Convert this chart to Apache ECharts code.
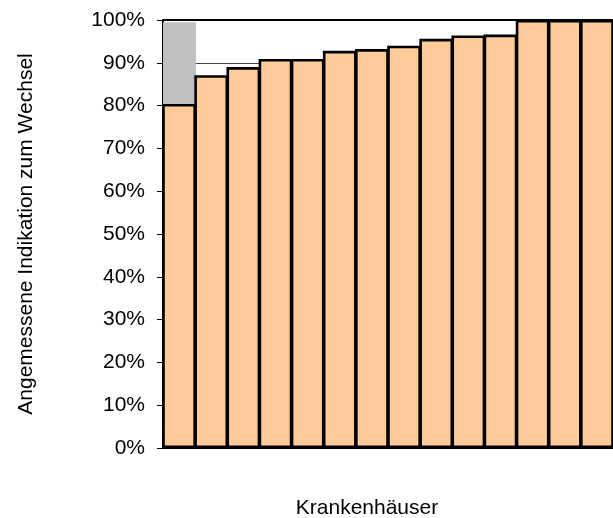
<!DOCTYPE html>
<html>
<head>
<meta charset="utf-8">
<script src="https://cdn.jsdelivr.net/npm/echarts@6/dist/echarts.min.js"></script>
<style>
  html, body { margin: 0; padding: 0; background: #fff; }
  #chart { width: 613px; height: 518px; }
</style>
</head>
<body>
<div id="chart"></div>
<script>
// Krankenhäuser (eine Säule je Haus)
var categories = ['1', '2', '3', '4', '5', '6', '7', '8', '9', '10', '11', '12', '13', '14'];
// Anteil angemessene Indikation in %
var indikation = [80.4, 87.1, 89.0, 90.9, 90.9, 92.8, 93.2, 94.0, 95.6, 96.4, 96.6, 100, 100, 100];
// grauer Aufsatz auf der ersten Säule
var aufsatz = [19.1, '-', '-', '-', '-', '-', '-', '-', '-', '-', '-', '-', '-', '-'];
var yTicks = [0, 10, 20, 30, 40, 50, 60, 70, 80, 90, 100];

var font = 'Liberation Sans, Arial, sans-serif';
var chart = echarts.init(document.getElementById('chart'));

var option = {
    animation: false,
    grid: {
        left: 163,
        right: 0,
        top: 20,
        bottom: 70,
        outerBoundsMode: 'none',
        containLabel: false
    },
    xAxis: [{
        type: 'category',
        data: categories,
        name: 'Krankenhäuser',
        nameLocation: 'middle',
        nameGap: 50,
        nameTextStyle: {
            fontFamily: font,
            fontSize: 21,
            color: '#000',
            padding: [0, 42, 0, 0]
        },
        axisLine: { lineStyle: { color: '#000', width: 2 } },
        axisTick: { show: false },
        axisLabel: { show: false }
    }, {
        // obere Begrenzung
        type: 'category',
        data: categories,
        position: 'top',
        axisLine: { lineStyle: { color: '#000', width: 2 } },
        axisTick: { show: false },
        axisLabel: { show: false }
    }],
    yAxis: {
        type: 'value',
        min: yTicks[0],
        max: yTicks[yTicks.length - 1],
        interval: 10,
        name: 'Angemessene Indikation zum Wechsel',
        nameLocation: 'middle',
        nameGap: 126,
        nameTextStyle: {
            fontFamily: font,
            fontSize: 21,
            color: '#000'
        },
        axisLine: { show: true, lineStyle: { color: '#000', width: 2 } },
        axisTick: { show: true, inside: false, length: 6, lineStyle: { color: '#000', width: 1 } },
        axisLabel: {
            margin: 18,
            fontFamily: font,
            fontSize: 21,
            color: '#000',
            formatter: '{value}%'
        },
        splitLine: { show: true, lineStyle: { color: '#444', width: 1 } }
    },
    series: [{
        name: 'Indikation',
        type: 'bar',
        stack: 'a',
        data: indikation,
        barCategoryGap: '-5%',
        barGap: 0,
        itemStyle: {
            color: '#FFCC99',
            borderColor: '#000',
            borderWidth: 2.6
        }
    }, {
        name: 'Aufsatz',
        type: 'bar',
        stack: 'a',
        data: aufsatz,
        barCategoryGap: '-5%',
        barGap: 0,
        z: 1,
        itemStyle: {
            color: '#C0C0C0',
            borderWidth: 0
        }
    }]
};

chart.setOption(option);
</script>
</body>
</html>
